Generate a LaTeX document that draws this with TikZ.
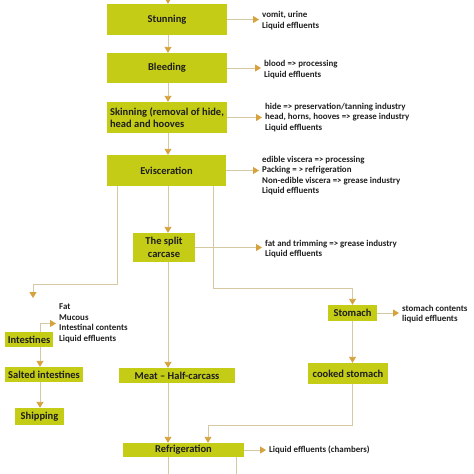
\documentclass[tikz,border=0pt]{standalone}
\usepackage{fontspec}
\setmainfont{Carlito}
\usetikzlibrary{positioning, arrows.meta, calc}
\definecolor{boxgreen}{RGB}{196,204,22}
\definecolor{linetan}{RGB}{214,200,160}
\definecolor{tipgold}{RGB}{214,162,62}
\definecolor{txtdark}{RGB}{30,30,30}

\begin{document}
\begin{tikzpicture}[x=1pt, y=1pt,
  stagebox/.style={rectangle, fill=boxgreen, inner sep=1pt,
                   align=center, text=txtdark,
                   font=\fontsize{10.5}{12.5}\selectfont\bfseries},
  outtext/.style={anchor=west, align=left, inner sep=3pt, text=txtdark,
                  font=\fontsize{8.9}{10.5}\selectfont\bfseries},
  arr/.style={-{Triangle[length=6pt, width=7pt, color=tipgold]},
              draw=linetan, line width=0.9pt},
  lne/.style={draw=linetan, line width=0.9pt}
]
\useasboundingbox (0,0) rectangle (474,-474);

\coordinate (spine) at (168,0);
\coordinate (lx)    at (40,0);
\coordinate (feed)  at (168,10);
\coordinate (intIn) at (33,-298);
\coordinate (exitA) at (168,-480);
\coordinate (exitB) at (236,-480);

% main line
\node[stagebox, minimum width=120pt, minimum height=31pt] (stun)  at (167,-19.5)   {Stunning};
\node[stagebox, minimum width=120pt, minimum height=30pt] (bleed) at (167,-68)     {Bleeding};
\node[stagebox, align=left, minimum width=120pt, minimum height=31pt] (skin) at (167,-117.5) {Skinning (removal of hide,\\head and hooves};
\node[stagebox, minimum width=119pt, minimum height=31pt] (evis)  at (166.5,-170.5) {Evisceration};
\node[stagebox, minimum width=62pt,  minimum height=29pt] (split) at (164,-247.5)  {The split\\carcase};
\node[stagebox, minimum width=49pt,  minimum height=16pt] (stom)  at (352.5,-313)  {Stomach};
\node[stagebox, minimum width=48pt,  minimum height=15pt] (int)   at (29,-339.5)   {Intestines};
\node[stagebox, minimum width=78pt,  minimum height=15pt] (salt)  at (44,-374.5)   {Salted intestines};
\node[stagebox, minimum width=116pt, minimum height=15pt] (meat)  at (177,-375.5)  {Meat – Half-carcass};
\node[stagebox, minimum width=80pt,  minimum height=21pt] (cook)  at (348,-373.5)  {cooked stomach};
\node[stagebox, minimum width=49pt,  minimum height=17pt] (ship)  at (39.5,-416.5) {Shipping};
\node[stagebox, minimum width=121pt, minimum height=14pt] (refr)  at (183.5,-450)  {Refrigeration};

% outputs
\node[outtext] (stunOut)  at (259,-20.5)  {vomit, urine\\Liquid effluents};
\node[outtext] (bleedOut) at (261,-69.5)  {blood => processing\\Liquid effluents};
\node[outtext] (skinOut)  at (262,-117.5) {hide => preservation/tanning industry\\head, horns, hooves => grease industry\\Liquid effluents};
\node[outtext] (evisOut)  at (259,-175.5) {edible viscera => processing\\Packing = > refrigeration\\Non-edible viscera => grease industry\\Liquid effluents};
\node[outtext] (splitOut) at (262,-249)   {fat and trimming => grease industry\\Liquid effluents};
\node[outtext] (stomOut)  at (399,-314)   {stomach contents\\liquid effluents};
\node[outtext] (intOut)   at (56,-323.5)  {Fat\\Mucous\\Intestinal contents\\Liquid effluents};
\node[outtext] (refrOut)  at (266,-449.5) {Liquid effluents (chambers)};

\draw[arr] (feed) -- (stun.north -| spine);
\draw[arr] (stun.south -| spine)  -- (bleed.north -| spine);
\draw[arr] (bleed.south -| spine) -- (skin.north -| spine);
\draw[arr] (skin.south -| spine)  -- (evis.north -| spine);
\draw[arr] (evis.south -| spine)  -- (split.north -| spine);
\draw[arr] (split.south -| spine) -- (meat.north -| spine);
\draw[arr] (meat.south -| spine)  -- (refr.north -| spine);
\draw[lne] (refr.south -| spine)  -- (exitA);
\draw[lne] (refr.south -| exitB)  -- (exitB);

\draw[arr] (stun.east)  -- (stun.east -| stunOut.west);
\draw[arr] (bleed.east) -- (bleed.east -| bleedOut.west);
\draw[arr] (skin.east)  -- (skin.east -| skinOut.west);
\draw[arr] (evis.east)  -- (evis.east -| evisOut.west);
\draw[arr] (split.east) -- (split.east -| splitOut.west);
\draw[arr] (stom.east)  -- (stom.east -| stomOut.west);
\draw[arr] (refr.east)  -- (refr.east -| refrOut.west);

\draw[arr] ([xshift=-49pt]evis.south) |- ($(intIn)+(0,14)$) -- (intIn);
\draw[arr] ([xshift=46.5pt]evis.south) |- ($(stom.north)+(0,16)$) -- (stom.north);
\draw[arr] (int.north -| lx) |- (intOut.west);
\draw[arr] (int.south -| lx)  -- (salt.north -| lx);
\draw[arr] (salt.south -| lx) -- (ship.north -| lx);
\draw[arr] (stom.south) -- (stom.south |- cook.north);
\draw[arr] (stom.south |- cook.south) |- ([xshift=24.5pt, yshift=17pt]refr.north) -- ([xshift=24.5pt]refr.north);

\end{tikzpicture}
\end{document}
